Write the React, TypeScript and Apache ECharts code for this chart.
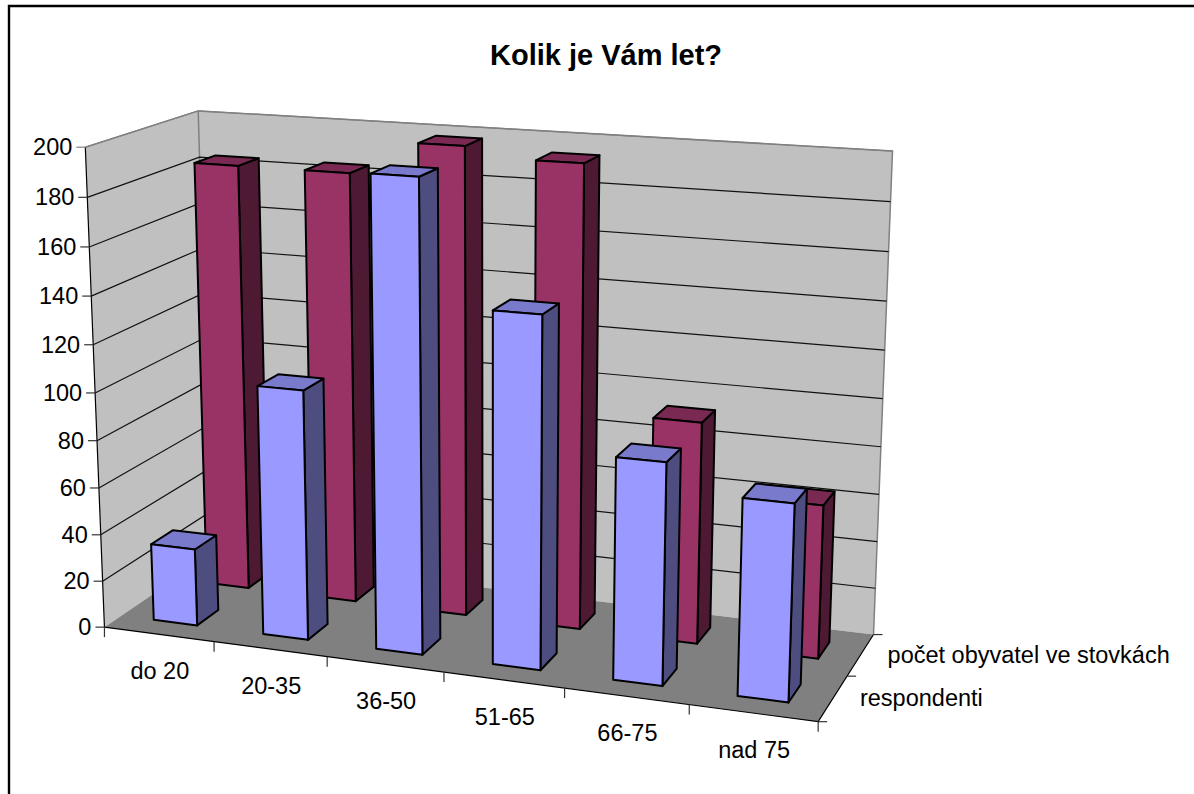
import React, { useEffect, useRef } from "react";
import * as echarts from "echarts";

const categories = ["do 20", "20-35", "36-50", "51-65", "66-75", "nad 75"];
const depthNames = ["respondenti", "počet obyvatel ve stovkách"];
const respondenti = [33, 105, 194, 144, 90.5, 79.5];
const pocetObyvatel = [184, 184, 198, 194, 93, 64];
const valueTicks = [0, 20, 40, 60, 80, 100, 120, 140, 160, 180, 200];

// Screen calibration of the 3D box: [u, v, h] -> [x, y]
const calibration: number[][] = [
  [0, 0, 0, 105, 628], [1, 0, 0, 818, 722], [1, 1, 0, 873, 635], [0, 1, 0, 211, 555],
  [0, 0, 1, 85, 148], [0, 1, 1, 198, 111], [1, 1, 1, 893, 152],
  [0, 0, 0.5, 95, 391], [1, 1, 0.5, 883, 397],
];

function solve(A: number[][], b: number[]) {
  const n = b.length;
  const M = A.map((r, i) => [...r, b[i]]);
  for (let c = 0; c < n; c++) {
    let p = c;
    for (let r = c + 1; r < n; r++) if (Math.abs(M[r][c]) > Math.abs(M[p][c])) p = r;
    [M[c], M[p]] = [M[p], M[c]];
    for (let r = 0; r < n; r++) {
      if (r === c) continue;
      const f = M[r][c] / M[c][c];
      for (let k = c; k <= n; k++) M[r][k] -= f * M[c][k];
    }
  }
  return M.map((r, i) => r[n] / r[i]);
}

function fitProjection() {
  const rows: number[][] = [];
  const rhs: number[] = [];
  for (const [u, v, h, px, py] of calibration) {
    const x = px / 1000, y = py / 1000;
    rows.push([u, v, h, 1, 0, 0, 0, 0, -x * u, -x * v, -x * h]); rhs.push(x);
    rows.push([0, 0, 0, 0, u, v, h, 1, -y * u, -y * v, -y * h]); rhs.push(y);
  }
  const N = 11;
  const AtA = Array.from({ length: N }, (_, i) =>
    Array.from({ length: N }, (_, j) => rows.reduce((s, r) => s + r[i] * r[j], 0)));
  const Atb = Array.from({ length: N }, (_, i) => rows.reduce((s, r, k) => s + r[i] * rhs[k], 0));
  return solve(AtA, Atb);
}
const P = fitProjection();
const project = (u: number, v: number, h: number): number[] => {
  const w = P[8] * u + P[9] * v + P[10] * h + 1;
  return [
    (1000 * (P[0] * u + P[1] * v + P[2] * h + P[3])) / w,
    (1000 * (P[4] * u + P[5] * v + P[6] * h + P[7])) / w,
  ];
};

const W = 1194, H = 794;
const AXIS_FONT = '23.5px "Liberation Sans", Arial, sans-serif';
const poly = (points: number[][], fill: string, stroke = "none", lineWidth = 0) => ({
  type: "polygon", shape: { points }, style: { fill, stroke, lineWidth, lineJoin: "round" },
});
const line = (points: number[][], stroke: string, lineWidth = 1) => ({
  type: "polyline", shape: { points }, style: { fill: "none", stroke, lineWidth },
});
const label = (text: string, x: number, y: number, align: string) => ({
  type: "text", x, y,
  style: { text, font: AXIS_FONT, fill: "#000", align, textAlign: align, verticalAlign: "middle", textVerticalAlign: "middle" },
});

const heightOf = (api: any, value: number) => 1 - api.coord([0, value])[1] / H;

const frameItem = () => ({
  type: "group",
  children: [
    poly([project(0, 0, 0), project(0, 1, 0), project(0, 1, 1), project(0, 0, 1)], "#C0C0C0"),
    poly([project(0, 1, 0), project(1, 1, 0), project(1, 1, 1), project(0, 1, 1)], "#C0C0C0"),
    poly([project(0, 0, 0), project(1, 0, 0), project(1, 1, 0), project(0, 1, 0)], "#808080"),
    line([project(0, 0, 1), project(0, 1, 1), project(1, 1, 1), project(1, 1, 0)], "#808080", 1.5),
    line([project(0, 1, 0), project(0, 1, 1)], "#808080", 1.5),
    line([project(0, 0, 0), project(0, 0, 1)], "#000", 1.2),
    line([project(0, 0, 0), project(1, 0, 0), project(1, 1, 0)], "#000", 1.2),
  ],
});

const tickItem = (_: any, api: any) => {
  const value = api.value(0);
  const h = heightOf(api, value);
  const a = project(0, 0, h);
  const children: any[] = [line([[a[0] - 9, a[1]], a], value === 200 ? "#808080" : "#333", 1.2)];
  if (value > 0) {
    children.push(line([a, project(0, 1, h), project(1, 1, h)], value === 200 ? "#808080" : "#111", 1.2));
  }
  children.push(label(String(value), a[0] - 13, a[1], "right"));
  return { type: "group", children };
};

const categoryItem = (params: any, api: any) => {
  const i = params.dataIndex;
  const band = api.size([1, 0])[0];
  const c = api.coord([i, 0])[0];
  const mid = project(c / W, 0, 0);
  const right = project((c + band / 2) / W, 0, 0);
  const children: any[] = [line([right, [right[0], right[1] + 10]], "#333", 1.2)];
  if (i === 0) {
    const left = project(0, 0, 0);
    children.push(line([left, [left[0], left[1] + 10]], "#333", 1.2));
  }
  children.push(label(categories[i], mid[0] + 1, mid[1] + 37, "center"));
  return { type: "group", children };
};

const depthItem = (params: any) => {
  const i = params.dataIndex;
  const end = project(1, (i + 1) / depthNames.length, 0);
  const mid = project(1, (i + 0.5) / depthNames.length, 0);
  const children: any[] = [line([end, [end[0] + 9, end[1]]], "#333", 1.2)];
  if (i === 0) {
    const start = project(1, 0, 0);
    children.push(line([start, [start[0] + 9, start[1]]], "#333", 1.2));
  }
  children.push(label(depthNames[i], mid[0] + 27, mid[1], "left"));
  return { type: "group", children };
};

const barItem = (row: number, colors: string[]) => (_: any, api: any) => {
  const c = api.coord([api.value(0), 0])[0];
  const band = api.size([1, 0])[0];
  const u0 = (c - band * 0.2) / W, u1 = (c + band * 0.2) / W;
  const rowDepth = 1 / depthNames.length;
  const v0 = (row + 0.3) * rowDepth, v1 = (row + 0.7) * rowDepth;
  const h = heightOf(api, api.value(1));
  const s = "#000", lw = 2;
  return {
    type: "group",
    children: [
      poly([project(u1, v0, 0), project(u1, v0, h), project(u1, v1, h), project(u1, v1, 0)], colors[1], s, lw),
      poly([project(u0, v0, h), project(u1, v0, h), project(u1, v1, h), project(u0, v1, h)], colors[2], s, lw),
      poly([project(u0, v0, 0), project(u1, v0, 0), project(u1, v0, h), project(u0, v0, h)], colors[0], s, lw),
    ],
  };
};

const BLUE = ["#9999FF", "#4D4D80", "#7A7ACC"];
const RED = ["#993366", "#4D1933", "#7A2952"];

export default function App() {
  const ref = useRef<HTMLDivElement>(null);
  useEffect(() => {
    document.body.style.margin = "0";
    const chart = echarts.init(ref.current!, undefined, { renderer: "svg" });
    const custom = (name: string, data: any[], renderItem: any) => ({
      type: "custom", name, data, renderItem, clip: false, silent: true,
    });
    chart.setOption({
      animation: false,
      backgroundColor: "#fff",
      title: {
        text: "Kolik je Vám let?",
        left: 601, top: 35, textAlign: "center",
        textStyle: { fontFamily: '"Liberation Sans", Arial, sans-serif', fontWeight: "bold", fontSize: 29, color: "#000" },
      },
      grid: { left: 0, top: 0, width: W, height: H, show: false },
      xAxis: { type: "category", data: categories, show: false },
      yAxis: { type: "value", min: 0, max: 200, interval: 20, show: false },
      graphic: [{
        type: "polyline", silent: true,
        shape: { points: [[9, 794], [9, 6], [1194, 6]] },
        style: { fill: "none", stroke: "#000", lineWidth: 2.4 },
      }],
      series: [
        custom("frame", [[0, 0]], frameItem),
        custom("ticks", valueTicks.map((v) => [v]), tickItem),
        custom("categoryAxis", categories.map((_, i) => [i, 0]), categoryItem),
        custom("depthAxis", depthNames.map((_, i) => [0, i]), depthItem),
        custom(depthNames[1], pocetObyvatel.map((v, i) => [i, v]), barItem(1, RED)),
        custom(depthNames[0], respondenti.map((v, i) => [i, v]), barItem(0, BLUE)),
      ],
    });
    return () => chart.dispose();
  }, []);
  return <div ref={ref} style={{ position: "fixed", left: 0, top: 0, width: W, height: H }} />;
}
